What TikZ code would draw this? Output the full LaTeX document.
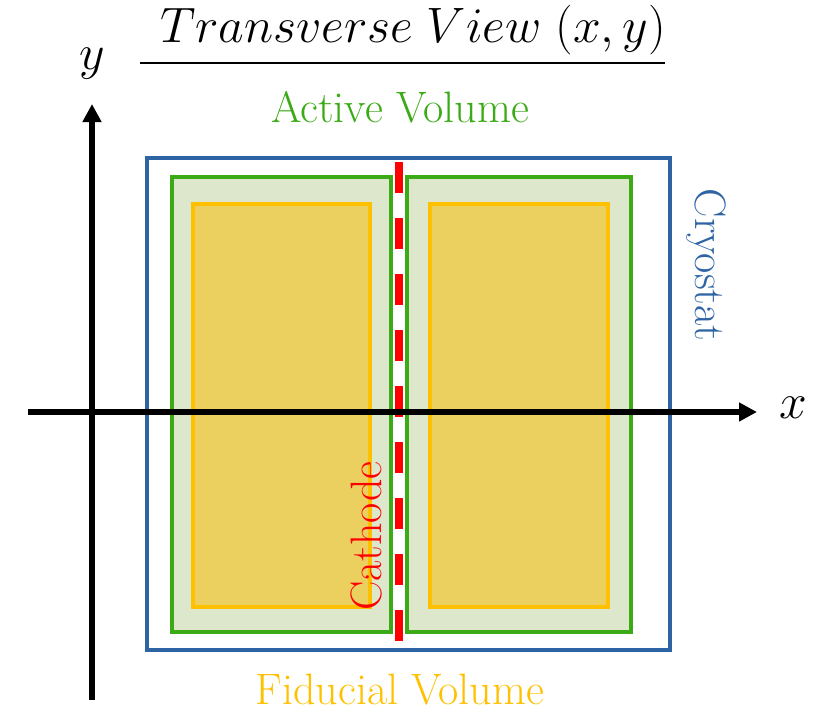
\documentclass[tikz,border=0pt]{standalone}
\usepackage{tikz}
\usetikzlibrary{arrows.meta}
\definecolor{cryoBlue}{HTML}{2E64A4}
\definecolor{tpcGreen}{HTML}{3BAA16}
\definecolor{tpcFill}{HTML}{DDE7CB}
\definecolor{fidGold}{HTML}{FFC000}
\definecolor{fidFill}{HTML}{EBD060}
\definecolor{cathRed}{HTML}{FF0000}

\begin{document}
\begin{tikzpicture}[x=0.5pt, y=-0.5pt,
  lbl/.style={font=\fontsize{22}{26}\selectfont},
  axlbl/.style={font=\fontsize{25}{28}\selectfont},
  axis/.style={line width=3pt, -{Triangle[length=9pt,width=9pt]}},
  tpc/.style={draw=tpcGreen, fill=tpcFill, line width=2pt},
  fid/.style={draw=fidGold, fill=fidFill, line width=2pt}]
\useasboundingbox (0,0) rectangle (826,712);
% --- cryostat ---
\draw[cryoBlue, line width=2pt] (147,158) rectangle (670,650);
% --- active volumes, one per drift side ---
\draw[tpc] (172,177) rectangle (391,632);
\draw[tpc] (407,177) rectangle (631,632);
% --- fiducial volumes ---
\draw[fid] (193,204) rectangle (370,607);
\draw[fid] (430,204) rectangle (608,607);
% --- cathode plane ---
\coordinate (cathTop) at (399,162);
\coordinate (cathBot) at (399,641);
\draw[cathRed, line width=4pt, dash pattern=on 15.5pt off 12.5pt] (cathTop) -- (cathBot);
% --- axes ---
\coordinate (xFrom) at (28,412);
\coordinate (xTo) at (757,412);
\coordinate (yFrom) at (92,700);
\coordinate (yTo) at (92,104);
\draw[axis] (xFrom) -- (xTo);
\draw[axis] (yFrom) -- (yTo);
\node[axlbl] (xlab) at (793,408) {$x$};
\node[axlbl] (ylab) at (92,64) {$y$};
% --- title ---
\node[font=\fontsize{23}{27}\selectfont] (title) at (413,30) {$Transverse\ View\ (x,y)$};
\coordinate (ruleL) at (140,63);
\coordinate (ruleR) at (665,63);
\draw[line width=1.4pt] (ruleL) -- (ruleR);
% --- labels ---
\node[lbl, text=tpcGreen] (active) at (400,107) {Active Volume};
\node[lbl, text=fidGold, inner sep=1pt] (fiducial) at (400,690) {Fiducial Volume};
\node[lbl, text=cathRed, rotate=90] (cathode) at (366,536) {Cathode};
\node[lbl, text=cryoBlue, rotate=-90] (cryostat) at (706,265) {Cryostat};
\end{tikzpicture}
\end{document}
